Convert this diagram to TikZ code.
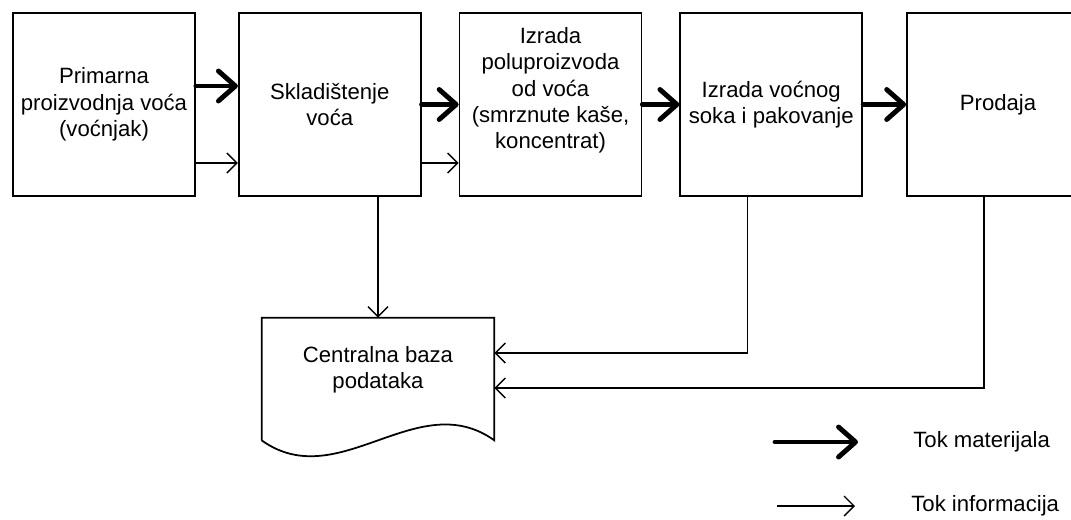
\documentclass[tikz,border=0pt]{standalone}
\usepackage{fontspec}
\setmainfont{Liberation Sans}
\usetikzlibrary{positioning,arrows.meta}

\begin{document}
\begin{tikzpicture}[
  font=\fontsize{12.6pt}{15pt}\selectfont,
  box/.style={draw,line width=1pt,minimum width=3.64cm,minimum height=3.66cm,
    align=center,inner sep=1pt},
  mat/.style={-{Straight Barb[length=3.4mm,width=6mm,round]},line width=2.8pt,
    line cap=round},
  info/.style={-{Straight Barb[length=2mm,width=4mm]},line width=0.8pt}
]
  \useasboundingbox (0,0) rectangle (21.42,-10.38);

  \node[box] (p1) at (2.08,-2.09) {Primarna\\proizvodnja voća\\(voćnjak)};
  \node[box,right=8.4mm of p1] (p2) {Skladištenje\\voća};
  \node[box,right=7.4mm of p2,
    label={[align=center,yshift=2.8mm]center:Izrada\\poluproizvoda\\od voća\\(smrznute kaše,\\koncentrat)}] (p3) {};
  \node[box,right=7.4mm of p3] (p4) {Izrada voćnog\\soka i pakovanje};
  \node[box,right=8.6mm of p4] (p5) {Prodaja};

  \node[minimum width=4.64cm,minimum height=2.08cm,align=center] (db) at (7.56,-7.40)
    {Centralna baza\\podataka};
  \draw[line width=1pt] ([yshift=-3.6mm]db.south west) |- (db.north east)
    -- ([yshift=-3.6mm]db.south east)
    .. controls +(-1.54,1.1) and +(1.54,-1.1) .. ([yshift=-3.6mm]db.south west);

  \draw[mat] ([yshift=3.7mm]p1.east) -- ([yshift=3.7mm]p2.west);
  \draw[mat] (p2) -- (p3);
  \draw[mat] (p3) -- (p4);
  \draw[mat] (p4) -- (p5);

  \draw[info] ([yshift=-11.7mm]p1.east) -- ([yshift=-11.7mm]p2.west);
  \draw[info] ([yshift=-11.7mm]p2.east) -- ([yshift=-11.7mm]p3.west);
  \draw[info] (p2.south -| db.north) -- (db.north);
  \draw[info] ([xshift=-4.7mm]p4.south) |- ([yshift=3.4mm]db.east);
  \draw[info] ([xshift=-2.8mm]p5.south) |- ([yshift=-3.6mm]db.east);

  \node[anchor=west,inner sep=0pt] (lm) at (18.26,-8.84) {Tok materijala};
  \node[anchor=west,inner sep=0pt] (li) at (18.22,-10.12) {Tok informacija};
  \coordinate (lm0) at (15.5,-8.84);
  \coordinate (li0) at (15.54,-10.12);
  \draw[mat] (lm0) -- ([xshift=-11mm]lm.west);
  \draw[info] (li0) -- ([xshift=-11.2mm]li.west);
\end{tikzpicture}
\end{document}
